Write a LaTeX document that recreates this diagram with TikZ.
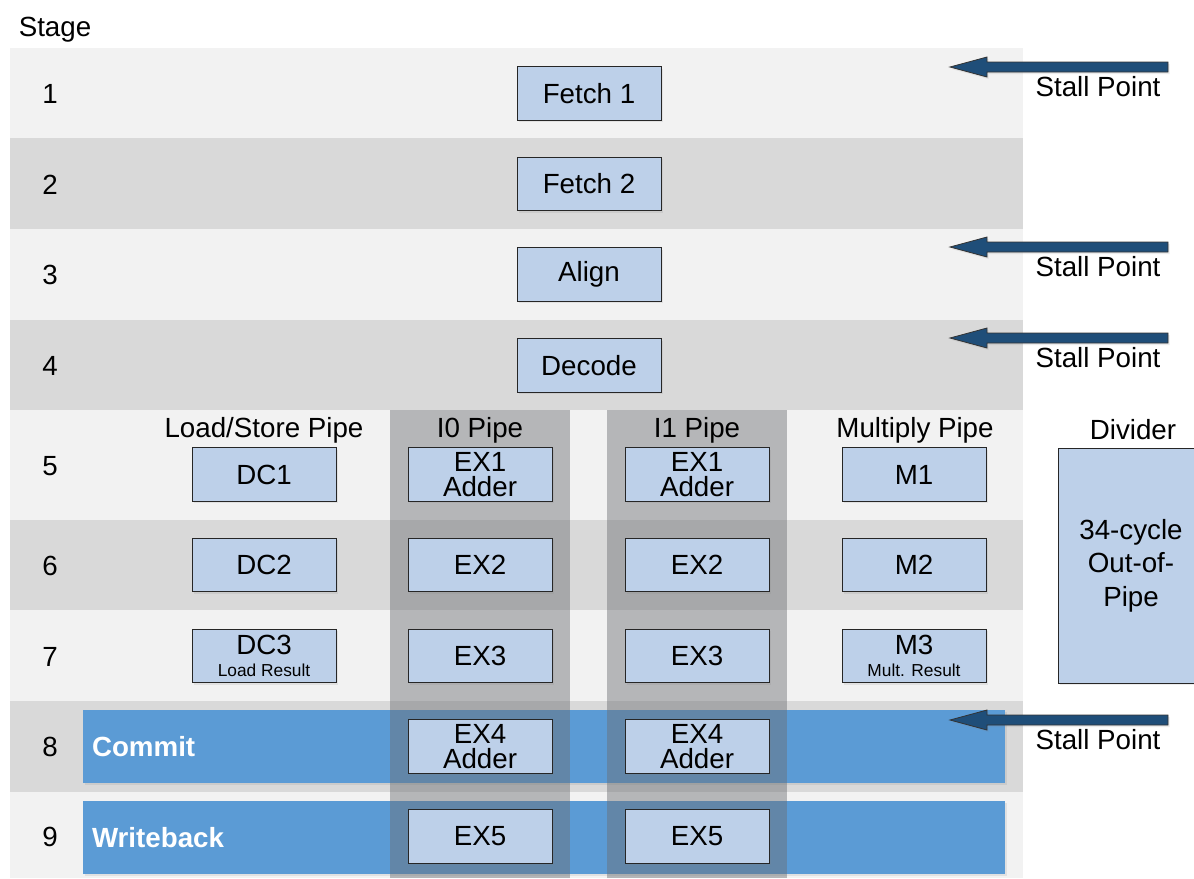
\documentclass[tikz,border=0pt]{standalone}
\usepackage{fontspec}
\setmainfont{Liberation Sans}
\usetikzlibrary{shadows}
\definecolor{bandL}{HTML}{F2F2F2}
\definecolor{bandD}{HTML}{D9D9D9}
\definecolor{boxblue}{HTML}{BDD0E9}
\definecolor{barblue}{HTML}{5B9BD5}
\definecolor{arrowblue}{HTML}{1F4E79}
\definecolor{pipegray}{HTML}{6B6E72}
\begin{document}
\begin{tikzpicture}[x=0.75pt,y=-0.75pt,
  every node/.style={font=\fontsize{20.8}{19}\selectfont, text=black, inner sep=0pt},
  stagebox/.style={draw=black!85, line width=0.6pt, fill=boxblue, minimum width=108pt, minimum height=40pt, align=center,
    drop shadow={opacity=0.15, shadow xshift=1.2pt, shadow yshift=-1.5pt}},
  barnode/.style={fill=barblue, minimum width=691.5pt, minimum height=54.75pt,
    drop shadow={opacity=0.15, shadow xshift=1.2pt, shadow yshift=-1.5pt}},
  bartext/.style={text=white, font=\fontsize{20.8}{19}\selectfont\bfseries, anchor=west},
  stallarrow/.style={fill=arrowblue, draw=black!80, line width=0.6pt,
    drop shadow={opacity=0.15, shadow xshift=1.2pt, shadow yshift=-1.5pt}},
  pipeover/.style={fill=pipegray, fill opacity=0.45, draw=none}
]
\useasboundingbox (0,0) rectangle (1194,878);
\fill[white] (0,0) rectangle (1194,878);

% row bands
\fill[bandL] (10,48) rectangle (1023,138);
\fill[bandD] (10,138) rectangle (1023,229);
\fill[bandL] (10,229) rectangle (1023,320);
\fill[bandD] (10,320) rectangle (1023,410);
\fill[bandL] (10,410) rectangle (1023,520);
\fill[bandD] (10,520) rectangle (1023,610);
\fill[bandL] (10,610) rectangle (1023,701);
\fill[bandD] (10,701) rectangle (1023,792);
\fill[bandL] (10,792) rectangle (1023,878);

% commit / writeback bars
\node[barnode] (commit) at (544,746.5) {};
\node[barnode] (wb) at (544,837.5) {};
\node[bartext] (committ) at ([xshift=6.75pt]commit.west) {Commit};
\node[bartext] (wbt) at ([xshift=6.75pt]wb.west) {Writeback};

% pipe overlays
\fill[pipeover] (390,410) rectangle (570,878);
\fill[pipeover] (607,410) rectangle (787,878);

% header and stage numbers
\node (stage) at (55,30) {Stage};
\node (s1) at (50,94) {1};
\node (s2) at (50,185) {2};
\node (s3) at (50,275) {3};
\node (s4) at (50,366) {4};
\node (s5) at (50,466) {5};
\node (s6) at (50,566) {6};
\node (s7) at (50,657) {7};
\node (s8) at (50,747) {8};
\node (s9) at (50,837) {9};

% front end
\node[stagebox] (f1) at (589,93.5) {Fetch 1};
\node[stagebox] (f2) at (589,184) {Fetch 2};
\node[stagebox] (al) at (589,274.5) {Align};
\node[stagebox] (de) at (589,365.5) {Decode};

% pipe labels
\node (lsp) at (264,430) {Load/Store Pipe};
\node (i0p) at (480,430) {I0 Pipe};
\node (i1p) at (697,430) {I1 Pipe};
\node (mp) at (915,430) {Multiply Pipe};
\node (dvp) at (1133,430) {Divider};

% load/store
\node[stagebox] (dc1) at (264,474.5) {DC1};
\node[stagebox] (dc2) at (264,565) {DC2};
\node[stagebox] (dc3) at (264,656) {DC3\\[-2pt]{\fontsize{13}{15}\selectfont Load Result}};

% I0
\node[stagebox] (a1) at (480,474.5) {EX1\\Adder};
\node[stagebox] (a2) at (480,565) {EX2};
\node[stagebox] (a3) at (480,656) {EX3};
\node[stagebox] (a4) at (480,746.5) {EX4\\Adder};
\node[stagebox] (a5) at (480,836.5) {EX5};

% I1
\node[stagebox] (b1) at (697,474.5) {EX1\\Adder};
\node[stagebox] (b2) at (697,565) {EX2};
\node[stagebox] (b3) at (697,656) {EX3};
\node[stagebox] (b4) at (697,746.5) {EX4\\Adder};
\node[stagebox] (b5) at (697,836.5) {EX5};

% multiply
\node[stagebox] (m1) at (914,474.5) {M1};
\node[stagebox] (m2) at (914,565) {M2};
\node[stagebox] (m3) at (914,656) {M3\\[-2pt]{\fontsize{13}{15}\selectfont Mult. Result}};

% divider
\node[stagebox, minimum width=109.5pt, minimum height=176.25pt, font=\fontsize{20.8}{25}\selectfont] (dv) at (1131,565.5) {34-cycle\\Out-of-\\Pipe};

% stall points
\foreach \n/\y in {p1/67, p3/247, p4/338, p8/720}{
  \coordinate (\n) at (1168,\y);
  \draw[stallarrow] (\n) ++(0,-5) -- ++(-181,0) -- ++(0,-5) -- ++(-37,10) -- ++(37,10) -- ++(0,-5) -- ++(181,0) -- cycle;
  \node (\n t) at (1098,\y+20) {Stall Point};
}
\end{tikzpicture}
\end{document}
